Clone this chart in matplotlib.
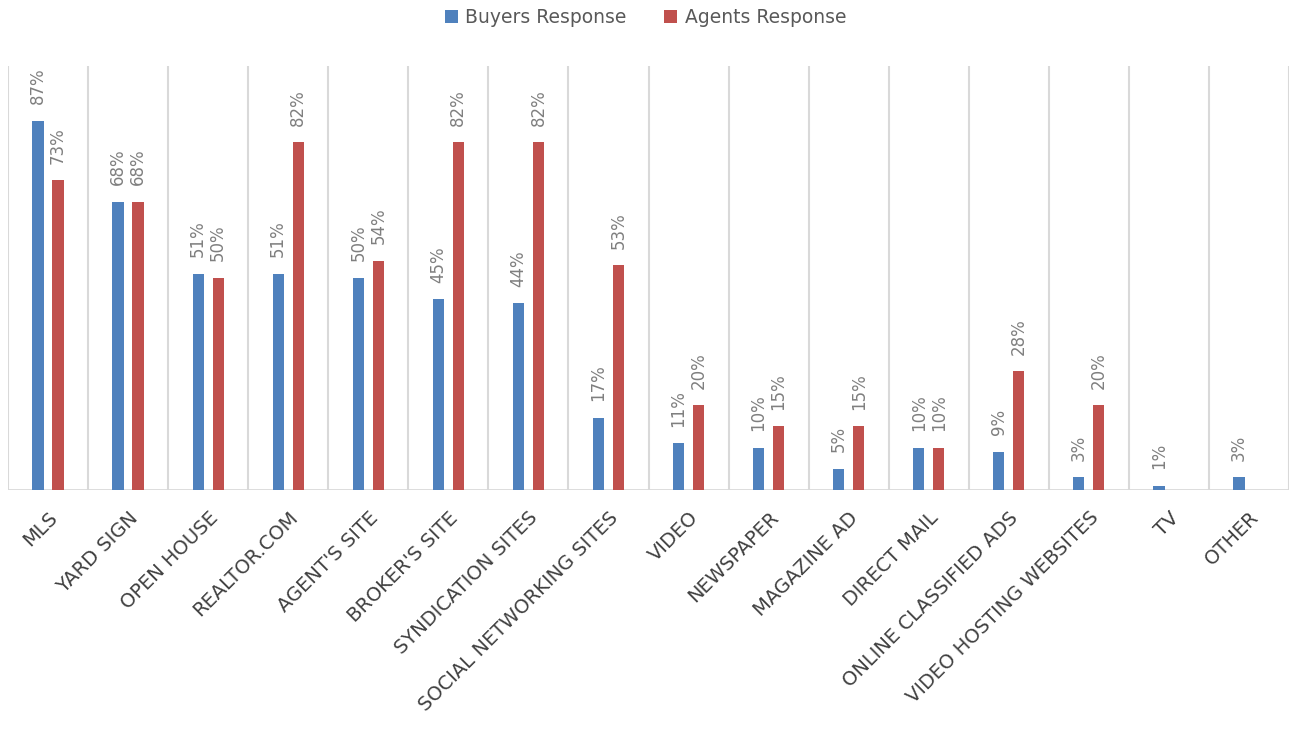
import numpy as np
import matplotlib
matplotlib.use("Agg")
import matplotlib.pyplot as plt

# ---------------------------------------------------------------
# data
categories = ["MLS", "YARD SIGN", "OPEN HOUSE", "REALTOR.COM", "AGENT'S SITE",
              "BROKER'S SITE", "SYNDICATION SITES", "SOCIAL NETWORKING SITES",
              "VIDEO", "NEWSPAPER", "MAGAZINE AD", "DIRECT MAIL",
              "ONLINE CLASSIFIED ADS", "VIDEO HOSTING WEBSITES", "TV", "OTHER"]
buyers = [87, 68, 51, 51, 50, 45, 44, 17, 11, 10, 5, 10, 9, 3, 1, 3]
agents = [73, 68, 50, 82, 54, 82, 82, 53, 20, 15, 15, 10, 28, 20, None, None]
series_names = ["Buyers Response", "Agents Response"]
# ---------------------------------------------------------------

blue = "#4F81BD"
red = "#C0504D"
grid_col = "#D9D9D9"
label_col = "#7F7F7F"

plt.rcParams['font.family'] = ['DejaVu Sans']

fig = plt.figure(figsize=(12.91, 7.47), dpi=100)
ax = fig.add_axes([8 / 1291, 257 / 747, 1281 / 1291, 424 / 747])

x = np.arange(len(categories))
w = 0.14
off = 0.125

for vals, sign, col, name in [(buyers, -1, blue, series_names[0]),
                              (agents, 1, red, series_names[1])]:
    xs = [xi + sign * off for xi, v in zip(x, vals) if v is not None]
    hs = [v / 100 for v in vals if v is not None]
    ax.bar(xs, hs, width=w, color=col, label=name, zorder=3)
    for xi, h in zip(xs, hs):
        ax.annotate(f"{round(h * 100)}%", (xi, h), xytext=(0, 12),
                    textcoords="offset points", rotation=90,
                    ha="center", va="bottom", fontsize=12, color=label_col)

ax.set_xlim(-0.5, len(categories) - 0.5)
ax.set_ylim(0, 1.0)
ax.set_yticks([])

# vertical separators between categories
for b in np.arange(-0.5, len(categories), 1.0):
    ax.axvline(b, color=grid_col, lw=1.5, zorder=1)
ax.axhline(0, color=grid_col, lw=2, zorder=2)

for s in ax.spines.values():
    s.set_visible(False)

ax.set_xticks(x)
ax.set_xticklabels(categories, rotation=45, ha="right", rotation_mode="anchor",
                   fontsize=14, color="#404040")
ax.tick_params(axis="x", length=0, pad=13)

leg = fig.legend(loc="upper center", bbox_to_anchor=(0.5, 1.012), ncol=2,
                 frameon=False, fontsize=13.5, handlelength=0.7, handleheight=0.7,
                 columnspacing=2.0, handletextpad=0.4)
for t in leg.get_texts():
    t.set_color("#595959")

fig.savefig("out.png", dpi=100)
